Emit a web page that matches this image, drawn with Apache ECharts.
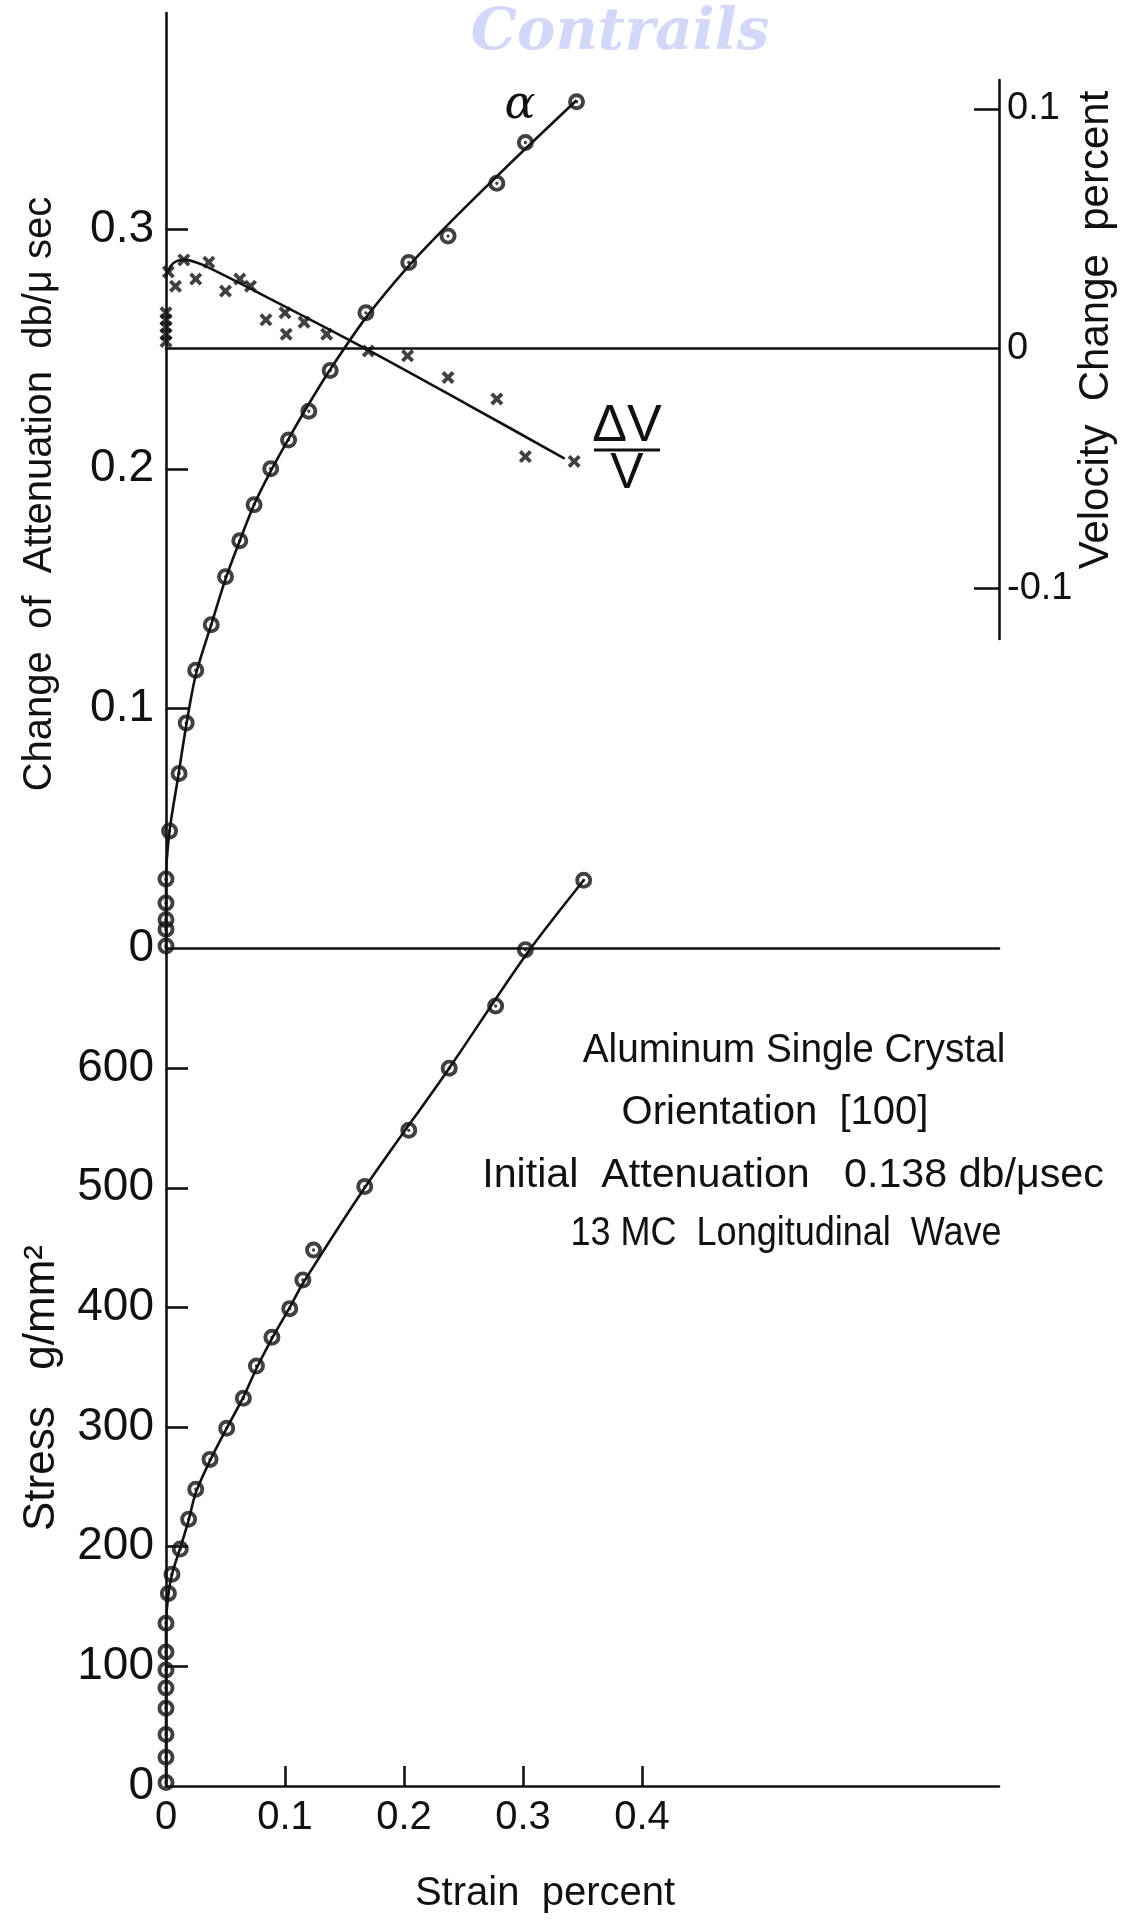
<!DOCTYPE html>
<html>
<head>
<meta charset="utf-8">
<title>Aluminum single crystal [100] - attenuation, velocity change and stress vs strain</title>
<script src="https://cdn.jsdelivr.net/npm/echarts@6.0.0/dist/echarts.min.js"></script>
<style>
  html, body { margin: 0; padding: 0; background: #fff; }
  #chart { width: 1121px; height: 1923px; }
</style>
</head>
<body>
<div id="chart"></div>
<script>
// values, strain in percent
var alphaStrain = [0, 0, 0, 0, 0, 0.003, 0.011, 0.017, 0.025, 0.038, 0.050, 0.062, 0.074, 0.088, 0.103, 0.120, 0.138, 0.168, 0.204, 0.237, 0.278, 0.302, 0.345];
var alphaAtten = [0.001, 0.008, 0.012, 0.019, 0.029, 0.049, 0.073, 0.094, 0.116, 0.135, 0.155, 0.170, 0.185, 0.200, 0.212, 0.224, 0.241, 0.265, 0.286, 0.297, 0.319, 0.336, 0.353];
// drawn curve through the circles
var alphaFitStrain = [0, 0, 0.003, 0.010, 0.017, 0.025, 0.038, 0.050, 0.062, 0.074, 0.088, 0.103, 0.120, 0.138, 0.168, 0.204, 0.237, 0.278, 0.302, 0.345];
var alphaFitAtten = [0, 0.029, 0.049, 0.071, 0.093, 0.114, 0.135, 0.154, 0.170, 0.185, 0.199, 0.2125, 0.227, 0.2414, 0.263, 0.2846, 0.3018, 0.3219, 0.3334, 0.3536];

// velocity change (percent), crosses
var dvStrain = [0, 0, 0, 0, 0, 0.002, 0.008, 0.015, 0.025, 0.036, 0.050, 0.062, 0.071, 0.084, 0.100, 0.101, 0.116, 0.135, 0.170, 0.203, 0.237, 0.278, 0.302, 0.343];
var dvValue = [0.003, 0.006, 0.009, 0.012, 0.015, 0.032, 0.026, 0.037, 0.029, 0.036, 0.024, 0.029, 0.026, 0.012, 0.015, 0.006, 0.011, 0.006, -0.001, -0.003, -0.012, -0.021, -0.045, -0.047];
// drawn curve through the crosses
var dvFitStrain = [0, 0.004, 0.009, 0.016, 0.025, 0.035, 0.071, 0.170, 0.253, 0.335];
var dvFitValue = [0.030, 0.0345, 0.0365, 0.037, 0.036, 0.034, 0.025, -0.0006, -0.0232, -0.0458];

// stress g/mm2
var stressStrain = [0, 0, 0, 0, 0, 0, 0, 0, 0.002, 0.005, 0.012, 0.019, 0.025, 0.037, 0.051, 0.065, 0.076, 0.089, 0.104, 0.115, 0.124, 0.167, 0.204, 0.238, 0.277, 0.302, 0.351];
var stressValue = [3, 24, 43, 65, 82, 97, 112, 136, 161, 177, 198, 223, 248, 273, 299, 324, 351, 375, 399, 423, 448, 501, 548, 600, 652, 699, 757];
var stressFitStrain = [0, 0, 0.002, 0.005, 0.012, 0.019, 0.025, 0.037, 0.051, 0.065, 0.076, 0.089, 0.104, 0.115, 0.167, 0.238, 0.302, 0.351];
var stressFitValue = [0, 135, 160, 177, 199, 222, 245, 272, 299, 325, 349, 374, 400, 420, 500, 600, 694, 757];

// ticks
var strainTicks = [0.1, 0.2, 0.3, 0.4];
var strainLabels = [0, 0.1, 0.2, 0.3, 0.4];
var attenTicks = [0.1, 0.2, 0.3];
var attenLabels = [0, 0.1, 0.2, 0.3];
var stressTicks = [100, 200, 300, 400, 500, 600];
var stressLabels = [0, 100, 200, 300, 400, 500, 600];
var velTicks = [-0.1, 0.1];
var velLabels = [-0.1, 0, 0.1];

var INK = '#111';
var FONT = 'Liberation Sans';

// circle with a dot in the middle, and a small bold cross
var ringDot = 'path://M10,0A10,10,0,1,1,10,20A10,10,0,1,1,10,0ZM10,4.6A5.4,5.4,0,1,0,10,15.4A5.4,5.4,0,1,0,10,4.6ZM10,8A2,2,0,1,1,10,12A2,2,0,1,1,10,8Z';
var crossMark = 'path://M0,2.5L2.5,0L6,3.5L9.5,0L12,2.5L8.5,6L12,9.5L9.5,12L6,8.5L2.5,12L0,9.5L3.5,6Z';

function pairs(xs, ys) {
    var out = [];
    for (var i = 0; i < xs.length; i++) {
        out.push([xs[i], ys[i]]);
    }
    return out;
}

function decimal(v) {
    return v === 0 ? '0' : v.toFixed(1);
}

function lineOf() {
    return { show: true, onZero: true, lineStyle: { color: INK, width: 2.6 } };
}

function plainX(gridIndex) {
    return {
        gridIndex: gridIndex, type: 'value', min: 0, max: 0.7,
        axisLine: lineOf(),
        axisTick: { show: false },
        axisLabel: { show: false },
        splitLine: { show: false }
    };
}

function textEl(x, y, text, size, extra) {
    var el = {
        type: 'text', x: x, y: y, silent: true,
        style: {
            text: text,
            font: size + 'px "' + FONT + '"',
            fill: INK,
            align: 'center', verticalAlign: 'middle',
            textAlign: 'center', textVerticalAlign: 'middle'
        }
    };
    if (extra) {
        for (var k in extra) el[k] = extra[k];
    }
    return el;
}

function fitLine(name, axis, xs, ys) {
    return {
        name: name, type: 'line', xAxisIndex: axis, yAxisIndex: axis,
        data: pairs(xs, ys),
        smooth: 0.3, clip: false, symbol: 'none',
        lineStyle: { color: INK, width: 2.6 }
    };
}

function marks(name, axis, xs, ys, symbol, size) {
    return {
        name: name, type: 'scatter', xAxisIndex: axis, yAxisIndex: axis,
        data: pairs(xs, ys),
        clip: false, symbol: symbol, symbolSize: size,
        itemStyle: { color: INK }
    };
}

var chart = echarts.init(document.getElementById('chart'), null, { renderer: 'canvas' });

var option = {
    animation: false,
    backgroundColor: '#fff',
    textStyle: { fontFamily: FONT, color: INK },
    grid: [
        { left: 166, top: 13, width: 833, height: 935.5, outerBoundsMode: 'none' },
        { left: 166, top: 948.5, width: 833, height: 837.5, outerBoundsMode: 'none' },
        { left: 166, top: 80, width: 833, height: 558.9, outerBoundsMode: 'none' }
    ],
    xAxis: [
        plainX(0),
        {
            gridIndex: 1, type: 'value', min: 0, max: 0.7,
            axisLine: lineOf(),
            axisTick: { show: true, inside: true, length: 20, lineStyle: { color: INK, width: 2.6 }, customValues: strainTicks },
            axisLabel: { customValues: strainLabels, margin: 12, fontSize: 40, fontFamily: FONT, color: INK, formatter: decimal },
            splitLine: { show: false }
        },
        plainX(2)
    ],
    yAxis: [
        {
            gridIndex: 0, type: 'value', min: 0, max: 0.39, position: 'left',
            axisLine: { show: true, onZero: false, lineStyle: { color: INK, width: 2.6 } },
            axisTick: { show: true, inside: true, length: 22, lineStyle: { color: INK, width: 2.6 }, customValues: attenTicks },
            axisLabel: { customValues: attenLabels, margin: 12, fontSize: 46, fontFamily: FONT, color: INK, formatter: decimal },
            splitLine: { show: false }
        },
        {
            gridIndex: 1, type: 'value', min: 0, max: 700, position: 'left',
            axisLine: { show: true, onZero: false, lineStyle: { color: INK, width: 2.6 } },
            axisTick: { show: true, inside: true, length: 22, lineStyle: { color: INK, width: 2.6 }, customValues: stressTicks },
            axisLabel: { customValues: stressLabels, margin: 12, fontSize: 46, fontFamily: FONT, color: INK },
            splitLine: { show: false }
        },
        {
            gridIndex: 2, type: 'value', min: -0.121, max: 0.112, position: 'right',
            axisLine: { show: true, onZero: false, lineStyle: { color: INK, width: 2.6 } },
            axisTick: { show: true, inside: true, length: 25, lineStyle: { color: INK, width: 2.6 }, customValues: velTicks },
            axisLabel: { customValues: velLabels, margin: 8, fontSize: 38, fontFamily: FONT, color: INK, formatter: decimal },
            splitLine: { show: false }
        }
    ],
    series: [
        fitLine('alpha fit', 0, alphaFitStrain, alphaFitAtten),
        marks('alpha', 0, alphaStrain, alphaAtten, ringDot, 17),
        fitLine('dV/V fit', 2, dvFitStrain, dvFitValue),
        marks('dV/V', 2, dvStrain, dvValue, crossMark, 13),
        fitLine('stress fit', 1, stressFitStrain, stressFitValue),
        marks('stress', 1, stressStrain, stressValue, ringDot, 17)
    ],
    graphic: [
        // scan watermark
        {
            type: 'text', x: 620, y: 34, silent: true,
            style: {
                text: 'Contrails', font: 'italic bold 58px "DejaVu Serif"',
                fill: 'rgba(150,160,238,0.42)',
                align: 'center', verticalAlign: 'middle', textAlign: 'center', textVerticalAlign: 'middle'
            }
        },
        textEl(40, 494, 'Change  of  Attenuation  db/\u03bc sec', 40, { rotation: Math.PI / 2 }),
        textEl(42, 1388, 'Stress   g/mm\u00b2', 44, { rotation: Math.PI / 2 }),
        textEl(1096, 330, 'Velocity  Change  percent', 42, { rotation: Math.PI / 2 }),
        textEl(545, 1894, 'Strain  percent', 40),
        {
            type: 'text', x: 520, y: 106, silent: true,
            style: {
                text: '\u03b1', font: 'italic 46px "DejaVu Serif"', fill: INK,
                align: 'center', verticalAlign: 'middle', textAlign: 'center', textVerticalAlign: 'middle'
            }
        },
        textEl(627, 427, '\u0394V', 52),
        { type: 'line', silent: true, shape: { x1: 594, y1: 450, x2: 660, y2: 450 }, style: { stroke: INK, lineWidth: 3 } },
        textEl(627, 474, 'V', 50),
        textEl(794, 1051, 'Aluminum Single Crystal', 40, { scaleX: 0.97 }),
        textEl(775, 1113, 'Orientation  [100]', 40),
        textEl(793, 1176, 'Initial  Attenuation   0.138 db/\u03bcsec', 40, { scaleX: 1.03 }),
        textEl(786, 1234, '13 MC  Longitudinal  Wave', 40, { scaleX: 0.9 })
    ]
};

chart.setOption(option);
</script>
</body>
</html>
